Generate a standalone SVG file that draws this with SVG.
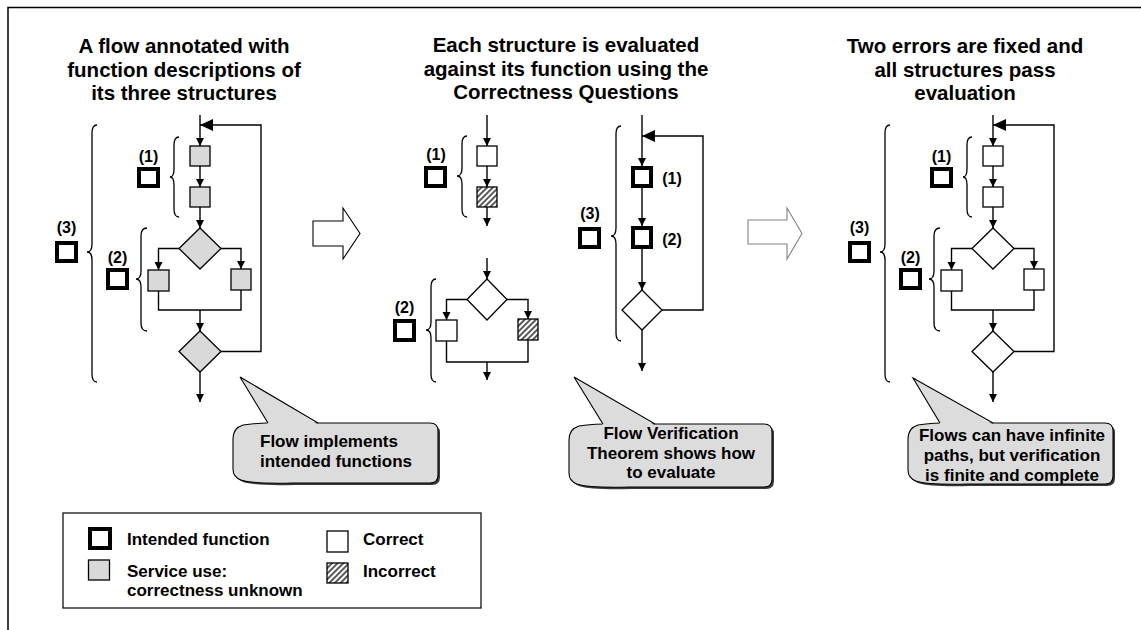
<svg xmlns="http://www.w3.org/2000/svg" width="1141" height="630" viewBox="0 0 1141 630">
<style>
text{font-family:"Liberation Sans",Arial,sans-serif;font-weight:bold;fill:#000}
.title{font-size:20.5px;text-anchor:middle}
.lbl{font-size:16px;text-anchor:middle}
.co{font-size:17px}
.cc{text-anchor:middle}
.leg{font-size:17px}
.box{stroke:#000;stroke-width:1.3}
.gray{fill:#d9d9d9}
.white{fill:#fff}
.hatch{fill:url(#hatch)}
.thick{fill:#fff;stroke:#000;stroke-width:4}
.brace{fill:none;stroke:#000;stroke-width:1.3}
.conn path{fill:none;stroke:#000;stroke-width:1.4}
.arr{marker-end:url(#ah)}
.fb{marker-end:url(#ahb)}
.bubble{fill:#dcdcdc;stroke:#000;stroke-width:1.1}
.shadow{fill:#3a3a3a}
</style>
<defs>
<marker id="ah" viewBox="0 0 10 10" refX="10" refY="5" markerWidth="8" markerHeight="9" markerUnits="userSpaceOnUse" orient="auto"><path d="M0,0 L10,5 L0,10 z" fill="#000"/></marker>
<marker id="ahb" viewBox="0 0 13 12" refX="13" refY="6" markerWidth="13" markerHeight="12" markerUnits="userSpaceOnUse" orient="auto"><path d="M0,0 L13,6 L0,12 z" fill="#000"/></marker>
<pattern id="hatch" width="4" height="4" patternUnits="userSpaceOnUse" patternTransform="rotate(45)"><rect width="4" height="4" fill="#fff"/><line x1="1" y1="0" x2="1" y2="4" stroke="#000" stroke-width="1.3"/></pattern>
</defs>

<path d="M8 630 V7.5 H1141" fill="none" stroke="#000" stroke-width="1.5"/>

<!-- titles -->
<g id="title-left"><text class="title" x="184" y="53">A flow annotated with</text><text class="title" x="184" y="76.5">function descriptions of</text><text class="title" x="184" y="100">its three structures</text></g>
<g id="title-mid"><text class="title" x="566" y="52">Each structure is evaluated</text><text class="title" x="566" y="75.5">against its function using the</text><text class="title" x="566" y="99">Correctness Questions</text></g>
<g id="title-right"><text class="title" x="965" y="53">Two errors are fixed and</text><text class="title" x="965" y="76.5">all structures pass</text><text class="title" x="965" y="100">evaluation</text></g>

<!-- connectors -->
<g id="connectors" class="conn">
<!-- left -->
<path class="arr" d="M200 115 V146"/>
<path class="arr" d="M200 166 V187"/>
<path class="arr" d="M200 207 V228"/>
<path class="arr" d="M179 248.5 H158.5 V270"/>
<path class="arr" d="M221 248.5 H241 V269"/>
<path d="M158.5 291 V310 H241 V290"/>
<path class="arr" d="M200 310 V331"/>
<path class="arr" d="M200 372 V402"/>
<path class="fb" d="M221 351.5 H261 V125 H200"/>
<!-- middle (1) -->
<path class="arr" d="M487 115 V146"/>
<path class="arr" d="M487 166 V187"/>
<path class="arr" d="M487 207 V226"/>
<!-- middle (2) -->
<path class="arr" d="M487 258 V279"/>
<path class="arr" d="M467 299.5 H446.5 V320"/>
<path class="arr" d="M507 299.5 H528 V319"/>
<path d="M446.5 341 V362 H528 V340"/>
<path class="arr" d="M487 362 V380"/>
<!-- middle (3) -->
<path class="arr" d="M642 115 V166"/>
<path class="arr" d="M642 188 V226"/>
<path class="arr" d="M642 249 V290"/>
<path class="arr" d="M642 330 V371"/>
<path class="fb" d="M662 310 H703 V136 H642"/>
<!-- right -->
<path class="arr" d="M993 115 V146"/>
<path class="arr" d="M993 166 V187"/>
<path class="arr" d="M993 207 V228"/>
<path class="arr" d="M972 248.5 H951.5 V270"/>
<path class="arr" d="M1014 248.5 H1034 V269"/>
<path d="M951.5 291 V310 H1034 V290"/>
<path class="arr" d="M993 310 V331"/>
<path class="arr" d="M993 372 V402"/>
<path class="fb" d="M1014 351.5 H1054 V125 H993"/>
</g>

<!-- left panel nodes -->
<g id="L-box1"><rect class="box gray" x="190" y="146" width="20" height="20"/></g>
<g id="L-box2"><rect class="box gray" x="190" y="187" width="20" height="20"/></g>
<g id="L-dec1"><polygon class="box gray" points="200,228 221,248.5 200,269 179,248.5"/></g>
<g id="L-boxL"><rect class="box gray" x="148" y="270" width="21" height="21"/></g>
<g id="L-boxR"><rect class="box gray" x="231" y="269" width="20" height="21"/></g>
<g id="L-dec2"><polygon class="box gray" points="200,331 221,351.5 200,372 179,351.5"/></g>
<g id="L-fn1"><text class="lbl" x="148.5" y="162">(1)</text><rect class="thick" x="139" y="169" width="19" height="17"/><path class="brace" d="M179 137 Q174 137 174 145 L174 169 Q174 177 170 177 Q174 177 174 185 L174 209 Q174 217 179 217"/></g>
<g id="L-fn2"><text class="lbl" x="117.5" y="263">(2)</text><rect class="thick" x="108" y="270" width="19" height="18"/><path class="brace" d="M147 228 Q141 228 141 236 L141 271 Q141 279 136 279 Q141 279 141 287 L141 323 Q141 331 147 331"/></g>
<g id="L-fn3"><text class="lbl" x="66.5" y="233">(3)</text><rect class="thick" x="57" y="243" width="19" height="18"/><path class="brace" d="M97 125 Q92 125 92 133 L92 244 Q92 252 87 252 Q92 252 92 260 L92 374 Q92 382 97 382"/></g>

<!-- big arrows -->
<g id="arrow1"><polygon points="313,221 343,221 343,208 360,233.5 343,259 343,246 313,246" fill="#fff" stroke="#000" stroke-width="1.1"/></g>
<g id="arrow2"><polygon points="748,220 787,220 787,208 802,233.5 787,259 787,244 748,244" fill="#fff" stroke="#808080" stroke-width="1.1"/></g>

<!-- middle panel nodes -->
<g id="M1-box1"><rect class="box white" x="477" y="146" width="20" height="20"/></g>
<g id="M1-box2"><rect class="box hatch" x="477" y="187" width="20" height="20"/></g>
<g id="M1-fn"><text class="lbl" x="436" y="160">(1)</text><rect class="thick" x="426" y="168" width="19" height="18"/><path class="brace" d="M467 136 Q462 136 462 144 L462 168 Q462 176 457 176 Q462 176 462 184 L462 209 Q462 217 467 217"/></g>
<g id="M2-dec"><polygon class="box white" points="487,279 507,299.5 487,320 467,299.5"/></g>
<g id="M2-boxL"><rect class="box white" x="436" y="320" width="21" height="21"/></g>
<g id="M2-boxR"><rect class="box hatch" x="518" y="319" width="20" height="21"/></g>
<g id="M2-fn"><text class="lbl" x="404.5" y="313">(2)</text><rect class="thick" x="395" y="321" width="19" height="19"/><path class="brace" d="M436 279 Q431 279 431 287 L431 322 Q431 330 426 330 Q431 330 431 338 L431 374 Q431 382 436 382"/></g>
<g id="M3-box1"><rect class="thick" x="633" y="168" width="18" height="18"/><text class="lbl" x="672" y="184">(1)</text></g>
<g id="M3-box2"><rect class="thick" x="633" y="228" width="18" height="19"/><text class="lbl" x="672" y="245">(2)</text></g>
<g id="M3-dec"><polygon class="box white" points="642,290 662,310 642,330 622,310"/></g>
<g id="M3-fn"><text class="lbl" x="590" y="219">(3)</text><rect class="thick" x="580" y="229" width="19" height="18"/><path class="brace" d="M621 126 Q616 126 616 134 L616 228 Q616 236 611 236 Q616 236 616 244 L616 333 Q616 341 621 341"/></g>

<!-- right panel nodes -->
<g id="R-box1"><rect class="box white" x="983" y="146" width="20" height="20"/></g>
<g id="R-box2"><rect class="box white" x="983" y="187" width="20" height="20"/></g>
<g id="R-dec1"><polygon class="box white" points="993,228 1014,248.5 993,269 972,248.5"/></g>
<g id="R-boxL"><rect class="box white" x="941" y="270" width="21" height="21"/></g>
<g id="R-boxR"><rect class="box white" x="1024" y="269" width="20" height="21"/></g>
<g id="R-dec2"><polygon class="box white" points="993,331 1014,351.5 993,372 972,351.5"/></g>
<g id="R-fn1"><text class="lbl" x="941.5" y="162">(1)</text><rect class="thick" x="932" y="169" width="19" height="17"/><path class="brace" d="M972 137 Q967 137 967 145 L967 169 Q967 177 963 177 Q967 177 967 185 L967 209 Q967 217 972 217"/></g>
<g id="R-fn2"><text class="lbl" x="910.5" y="263">(2)</text><rect class="thick" x="901" y="270" width="19" height="18"/><path class="brace" d="M940 228 Q934 228 934 236 L934 271 Q934 279 929 279 Q934 279 934 287 L934 323 Q934 331 940 331"/></g>
<g id="R-fn3"><text class="lbl" x="859.5" y="233">(3)</text><rect class="thick" x="850" y="243" width="19" height="18"/><path class="brace" d="M890 125 Q885 125 885 133 L885 244 Q885 252 880 252 Q885 252 885 260 L885 374 Q885 382 890 382"/></g>

<!-- callouts -->
<g id="callout-left">
<path class="shadow" transform="translate(2,2)" d="M243 425 Q263 422 293 423 L430 423 Q438 423 438 431 L438 475 Q438 483 430 483 L293 483 Q253 484 241 480 Q233 477 233 469 L233 439 Q233 428 243 425 Z"/>
<path class="bubble" d="M243 425 Q263 422 293 423 L430 423 Q438 423 438 431 L438 475 Q438 483 430 483 L293 483 Q253 484 241 480 Q233 477 233 469 L233 439 Q233 428 243 425 Z"/>
<polygon points="240,377 268,424.5 318,424.5" fill="#dcdcdc"/>
<path d="M268 423 L240 377 L318 423" fill="none" stroke="#000" stroke-width="1.1"/>
<text class="co" x="260" y="447">Flow implements</text>
<text class="co" x="260" y="467">intended functions</text>
</g>
<g id="callout-mid">
<path class="shadow" transform="translate(2,2)" d="M579 426 Q599 423 629 424 L764 424 Q772 424 772 432 L772 479 Q772 487 764 487 L629 487 Q589 488 577 484 Q569 481 569 473 L569 440 Q569 429 579 426 Z"/>
<path class="bubble" d="M579 426 Q599 423 629 424 L764 424 Q772 424 772 432 L772 479 Q772 487 764 487 L629 487 Q589 488 577 484 Q569 481 569 473 L569 440 Q569 429 579 426 Z"/>
<polygon points="574,377 603,425.5 655,425.5" fill="#dcdcdc"/>
<path d="M603 424 L574 377 L655 424" fill="none" stroke="#000" stroke-width="1.1"/>
<text class="co cc" x="671" y="439">Flow Verification</text>
<text class="co cc" x="671" y="458.5">Theorem shows how</text>
<text class="co cc" x="671" y="478">to evaluate</text>
</g>
<g id="callout-right">
<path class="shadow" transform="translate(2,2)" d="M918 425 Q938 422 968 423 L1105 423 Q1113 423 1113 431 L1113 476 Q1113 484 1105 484 L968 484 Q928 485 916 481 Q908 478 908 470 L908 439 Q908 428 918 425 Z"/>
<path class="bubble" d="M918 425 Q938 422 968 423 L1105 423 Q1113 423 1113 431 L1113 476 Q1113 484 1105 484 L968 484 Q928 485 916 481 Q908 478 908 470 L908 439 Q908 428 918 425 Z"/>
<polygon points="913,378 940,424.5 993,424.5" fill="#dcdcdc"/>
<path d="M940 423 L913 378 L993 423" fill="none" stroke="#000" stroke-width="1.1"/>
<text class="co cc" x="1012" y="441">Flows can have infinite</text>
<text class="co cc" x="1012" y="461">paths, but verification</text>
<text class="co cc" x="1012" y="481">is finite and complete</text>
</g>

<!-- legend -->
<g id="legend">
<rect x="63" y="513" width="418" height="95" fill="#fff" stroke="#000" stroke-width="1.2"/>
<rect class="thick" x="90" y="529" width="20" height="19"/>
<text class="leg" x="127" y="545">Intended function</text>
<rect class="box gray" x="88.5" y="560" width="21" height="20"/>
<text class="leg" x="127" y="577">Service use:</text>
<text class="leg" x="127" y="596">correctness unknown</text>
<rect class="box white" x="327" y="531" width="21" height="21"/>
<text class="leg" x="363" y="545">Correct</text>
<rect class="box hatch" x="327" y="563" width="21" height="20"/>
<text class="leg" x="363" y="577">Incorrect</text>
</g>
</svg>
